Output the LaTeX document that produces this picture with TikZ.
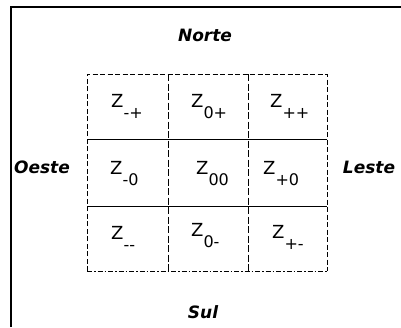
\documentclass[tikz,border=0pt]{standalone}
\usepackage{fontspec}
\setmainfont{DejaVu Sans}
\begin{document}
\begin{tikzpicture}[x=1pt,y=-1pt,
  zlab/.style={anchor=base west,inner sep=0pt,font=\fontsize{18}{18}\selectfont},
  dir/.style={anchor=base,inner sep=0pt,font=\fontsize{17}{17}\selectfont\bfseries\itshape},
  outer/.style={line width=1pt,dash pattern=on 5pt off 2.5pt},
  vdiv/.style={line width=1pt,dash pattern=on 7pt off 2.5pt},
  hdiv/.style={line width=1pt},
  frame/.style={line width=2pt}]
\useasboundingbox (0,0) rectangle (401,327);
\newcommand{\zsub}[1]{\raisebox{-11pt}{\fontsize{16}{16}\selectfont #1}}
% frame
\coordinate (ftl) at (11,7);
\coordinate (ftr) at (401,7);
\coordinate (fbl) at (11,327);
\draw[frame] (fbl) -- (ftl) -- (ftr);
% grid corners
\coordinate (g1) at (87,74);
\coordinate (g2) at (327,74);
\coordinate (g3) at (327,271);
\coordinate (g4) at (87,271);
\draw[outer] (g4) -- (g1) -- (g2) -- (g3);
\draw[line width=1pt,dash pattern=on 5pt off 2pt on 1.5pt off 2pt] (g4) -- (g3);
\coordinate (h1a) at (87,139); \coordinate (h1b) at (327,139);
\coordinate (h2a) at (87,206); \coordinate (h2b) at (327,206);
\draw[hdiv] (h1a) -- (h1b);
\draw[hdiv] (h2a) -- (h2b);
\coordinate (v1a) at (168,74); \coordinate (v1b) at (168,271);
\coordinate (v2a) at (248,74); \coordinate (v2b) at (248,271);
\draw[vdiv] (v1a) -- (v1b);
\draw[vdiv] (v2a) -- (v2b);
% cells
\node[zlab] (zmp) at (111,107) {Z\zsub{-+}};
\node[zlab] (zop) at (191,107) {Z\zsub{0+}};
\node[zlab] (zpp) at (270,107) {Z\zsub{++}};
\node[zlab] (zmo) at (110,174) {Z\zsub{-0}};
\node[zlab] (zoo) at (196,174) {Z\zsub{00}};
\node[zlab] (zpo) at (263,174) {Z\zsub{+0}};
\node[zlab] (zmm) at (111,239) {Z\zsub{-{}-}};
\node[zlab] (zom) at (191,236) {Z\zsub{0-}};
\node[zlab] (zpm) at (272,238) {Z\zsub{+-}};
% directions
\node[dir] (norte) at (205,41) {Norte};
\node[dir] (oeste) at (42,173) {Oeste};
\node[dir] (leste) at (369,173) {Leste};
\node[dir] (sul) at (203,318) {Sul};
\end{tikzpicture}
\end{document}
